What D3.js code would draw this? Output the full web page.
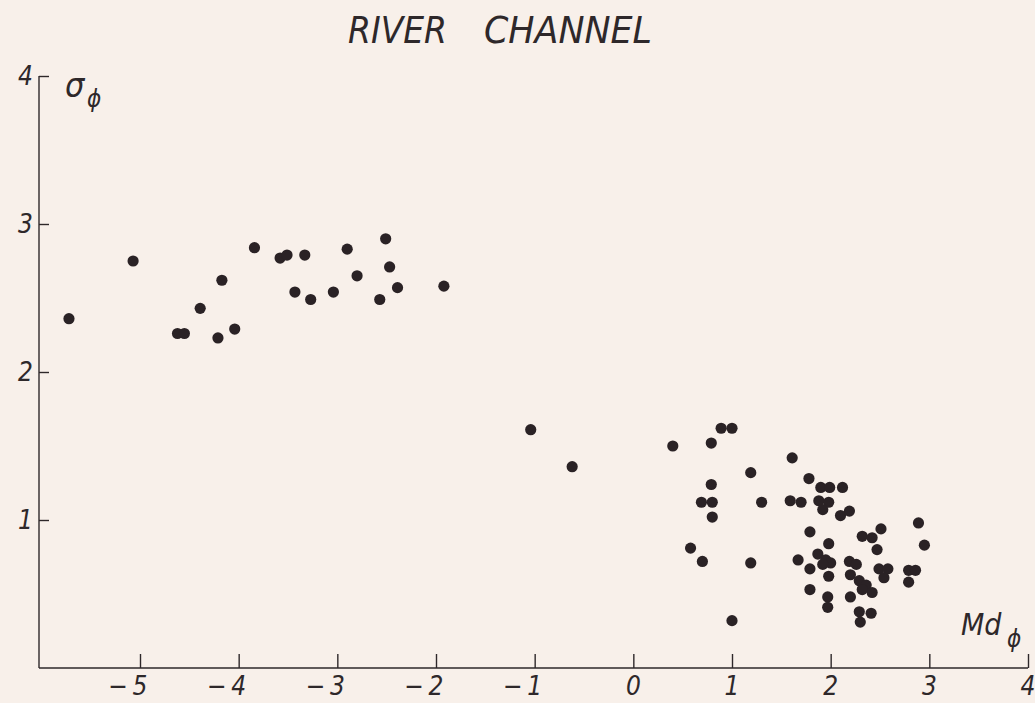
<!DOCTYPE html>
<html>
<head>
<meta charset="utf-8">
<script src="https://cdn.jsdelivr.net/npm/d3@7"></script>
<style>
  html, body { margin: 0; padding: 0; background: #f8f0ea; }
  svg { display: block; }
  .lbl { font-family: "Liberation Sans Narrow", "DejaVu Sans Condensed", "Liberation Sans", sans-serif; font-style: italic; fill: #2e282a; }
</style>
</head>
<body>
<svg id="chart" width="1035" height="703"></svg>
<script>
// ---- data (Md_phi, sigma_phi) ----
const mdPhi = [
  -5.72, -5.07, -4.62, -4.55, -4.39, -4.21, -4.17, -4.04, -3.84, -3.58, -3.51,
  -3.43, -3.33, -3.27, -3.04, -2.90, -2.80, -2.51, -2.47, -2.57, -2.39, -1.92,
  -1.04, -0.62,
  0.40, 0.79, 0.89, 1.00, 1.19, 0.79, 0.69, 0.80, 0.80, 1.30, 0.58, 0.70, 1.19, 1.00,
  1.61, 1.78, 1.90, 1.99, 2.12, 1.59, 1.70, 1.88, 1.98, 1.92, 2.10, 2.19,
  1.79, 2.32, 2.51, 2.42, 2.47, 1.98, 1.87, 1.95, 2.00, 1.92, 1.67, 1.79,
  1.98, 2.19, 2.26, 2.20, 2.29, 2.36, 2.42, 2.32, 2.20, 1.79, 1.97, 1.97,
  2.29, 2.41, 2.30, 2.49, 2.58, 2.54, 2.89, 2.95, 2.79, 2.86, 2.79
];
const sigmaPhi = [
  2.36, 2.75, 2.26, 2.26, 2.43, 2.23, 2.62, 2.29, 2.84, 2.77, 2.79,
  2.54, 2.79, 2.49, 2.54, 2.83, 2.65, 2.90, 2.71, 2.49, 2.57, 2.58,
  1.61, 1.36,
  1.50, 1.52, 1.62, 1.62, 1.32, 1.24, 1.12, 1.12, 1.02, 1.12, 0.81, 0.72, 0.71, 0.32,
  1.42, 1.28, 1.22, 1.22, 1.22, 1.13, 1.12, 1.13, 1.12, 1.07, 1.03, 1.06,
  0.92, 0.89, 0.94, 0.88, 0.80, 0.84, 0.77, 0.73, 0.71, 0.70, 0.73, 0.67,
  0.62, 0.72, 0.70, 0.63, 0.59, 0.56, 0.51, 0.53, 0.48, 0.53, 0.48, 0.41,
  0.38, 0.37, 0.31, 0.67, 0.67, 0.61, 0.98, 0.83, 0.66, 0.66, 0.58
];
const xTicks = [-5, -4, -3, -2, -1, 0, 1, 2, 3, 4];
const yTicks = [1, 2, 3, 4];
const titleWords = ["RIVER", "CHANNEL"];

const svg = d3.select("#chart");
const x = d3.scaleLinear().domain([-5, 4]).range([140, 1028]);
const y = d3.scaleLinear().domain([0, 4]).range([668, 76]);
const x0 = 39;

const ink = "#2e282a";

// axes
const fmt = d => d < 0 ? "\u2212\u2009" + (-d) : String(d);
const gx = svg.append("g").attr("transform", `translate(0,${y(0)})`)
  .call(d3.axisBottom(x).tickValues(xTicks).tickSize(-14).tickSizeOuter(0).tickPadding(9).tickFormat(fmt));
gx.select(".domain").attr("d", `M${x0},0H${x(4)}`);
const gy = svg.append("g").attr("transform", `translate(${x0},0)`)
  .call(d3.axisLeft(y).tickValues(yTicks).tickSize(-10).tickSizeOuter(0).tickPadding(6).tickFormat(d => String(d)));
gy.select(".domain").attr("d", `M0,${y(4)}V${y(0)}`);

svg.selectAll(".domain, .tick line").attr("stroke", ink).attr("stroke-width", 1.4);
svg.selectAll(".tick text").attr("class", "lbl").attr("font-size", 26).attr("fill", ink);
gx.selectAll(".tick text").attr("text-anchor", "end").attr("x", 7);

// points
const pts = mdPhi.map((v, i) => [v, sigmaPhi[i]]);
svg.append("g").selectAll("circle").data(pts).join("circle")
  .attr("cx", d => x(d[0])).attr("cy", d => y(d[1])).attr("r", 5.6)
  .attr("fill", "#2a2225");

// title
svg.append("text").attr("class", "lbl").attr("x", 348).attr("y", 43)
  .attr("font-size", 38).attr("textLength", 99).attr("lengthAdjust", "spacingAndGlyphs").text(titleWords[0]);
svg.append("text").attr("class", "lbl").attr("x", 484).attr("y", 43)
  .attr("font-size", 38).attr("textLength", 168).attr("lengthAdjust", "spacingAndGlyphs").text(titleWords[1]);

// axis names
svg.append("text").attr("class", "lbl").attr("x", 65).attr("y", 97).attr("font-size", 34).text("σ");
svg.append("text").attr("class", "lbl").attr("x", 87).attr("y", 107).attr("font-size", 24).text("ϕ");
svg.append("text").attr("class", "lbl").attr("x", 961).attr("y", 635).attr("font-size", 30).text("Md");
svg.append("text").attr("class", "lbl").attr("x", 1007).attr("y", 647).attr("font-size", 24).text("ϕ");
</script>
</body>
</html>
